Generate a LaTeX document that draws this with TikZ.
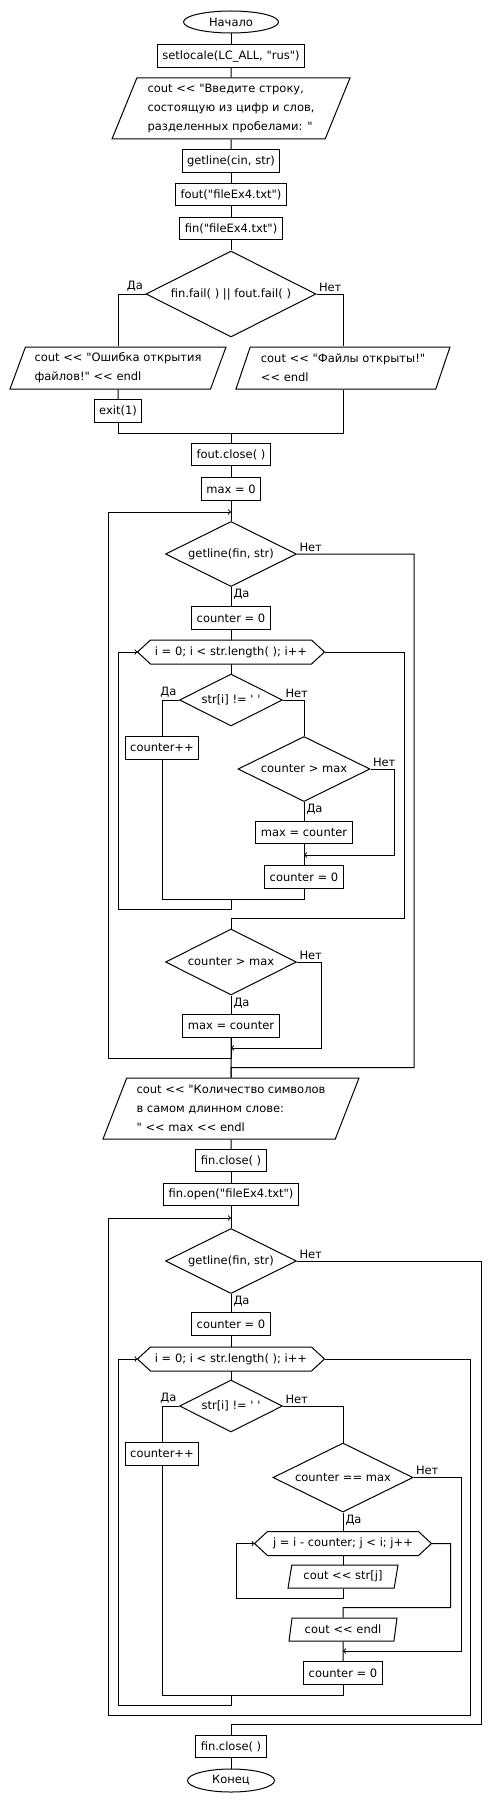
\documentclass[tikz,border=0pt]{standalone}
\usepackage{fontspec}
\setmainfont{DejaVu Sans}[Ligatures=TeXOff]
\usetikzlibrary{arrows}
\usetikzlibrary{shapes.geometric}

\begin{document}
\begin{tikzpicture}[
x=1pt, y=-1pt, line width=1pt,
every node/.style={font=\fontsize{11.5}{19}\selectfont},
term/.style={ellipse, draw, minimum height=22pt, inner sep=0pt},
proc/.style={rectangle, draw, minimum height=22.5pt, inner xsep=5pt, inner ysep=0pt},
io/.style={trapezium, draw, trapezium left angle=63, trapezium right angle=117,
trapezium stretches body=true, align=left, inner sep=0pt},
cond/.style={diamond, draw, aspect=2, inner sep=0pt},
loopbox/.style={rectangle, minimum height=23pt, inner sep=0pt},
lbl/.style={inner sep=2pt},
node distance=34pt
]
\useasboundingbox (0,0) rectangle (490,1803);

\node[term, minimum width=95pt] (start) at (231,22) {Начало};
\node[proc, below of=start] (set) {setlocale(LC\_ALL, "rus")};
\node[io, below of=set, node distance=52.5pt, minimum width=238pt, minimum height=61pt] (in1) {cout << "Введите строку,\\состоящую из цифр и слов,\\разделенных пробелами: "};
\node[proc, below of=in1, node distance=52.5pt] (getl) {getline(cin, str)};
\node[proc, below of=getl, node distance=33.5pt] (fout) {fout("fileEx4.txt")};
\node[proc, below of=fout] (fin) {fin("fileEx4.txt")};
\node[cond, below of=fin, node distance=65.5pt, minimum width=170pt, minimum height=86pt] (dec1) {fin.fail( ) || fout.fail( )};
\node[io, below of=dec1, node distance=74pt, xshift=-113pt, minimum width=216pt, minimum height=42pt] (err) {cout << "Ошибка открытия\\файлов!" << endl};
\node[io, below of=dec1, node distance=74pt, xshift=112pt, minimum width=214pt, minimum height=42pt] (ok) {cout << "Файлы открыты!"\\<< endl};
\node[proc, below of=err, node distance=43pt] (ex) {exit(1)};
\node[proc, below of=dec1, node distance=160.5pt] (fcl) {fout.close( )};
\node[proc, below of=fcl, node distance=34.5pt] (max0) {max = 0};

% first loop
\node[cond, below of=max0, node distance=65pt, minimum width=131pt, minimum height=65pt] (gl1) {getline(fin, str)};
\node[proc, below of=gl1, node distance=64pt] (c01) {counter = 0};
\node[loopbox, below of=c01, minimum width=160pt] (for1) {i = 0; i < str.length( ); i++};
\node[cond, below of=for1, node distance=48pt, minimum width=103pt, minimum height=52pt] (ne1) {str[i] != ' '};
\node[proc, below of=ne1, node distance=48pt, xshift=-69pt] (inc1) {counter++};
\node[cond, below of=ne1, node distance=69pt, xshift=73pt, minimum width=132pt, minimum height=65pt] (gt1) {counter > max};
\node[proc, below of=gt1, node distance=63.5pt] (mx1) {max = counter};
\node[proc, below of=mx1, node distance=44.5pt] (c02) {counter = 0};
\node[cond, below of=for1, node distance=310pt, minimum width=131pt, minimum height=66pt] (gt2) {counter > max};
\node[proc, below of=gt2, node distance=64pt] (mx2) {max = counter};
\node[io, below of=mx2, node distance=82.5pt, minimum width=256pt, minimum height=61pt] (out) {cout << "Количество символов\\в самом длинном слове:\\" << max << endl};

% second loop
\node[proc, below of=out, node distance=52pt] (fcl2) {fin.close( )};
\node[proc, below of=fcl2] (fop) {fin.open("fileEx4.txt")};
\node[cond, below of=fop, node distance=66.5pt, minimum width=131pt, minimum height=65pt] (gl2) {getline(fin, str)};
\node[proc, below of=gl2, node distance=63pt] (c03) {counter = 0};
\node[loopbox, below of=c03, node distance=35pt, minimum width=160pt] (for2) {i = 0; i < str.length( ); i++};
\node[cond, below of=for2, node distance=47pt, minimum width=103pt, minimum height=52pt] (ne2) {str[i] != ' '};
\node[proc, below of=ne2, node distance=48pt, xshift=-69pt] (inc2) {counter++};
\node[cond, below of=ne2, node distance=71.5pt, xshift=112pt, minimum width=140pt, minimum height=69pt] (eq) {counter == max};
\node[loopbox, below of=eq, node distance=66pt, minimum width=150pt] (forj) {j = i - counter; j < i; j++};
\node[io, trapezium left angle=71, trapezium right angle=109, below of=forj, node distance=33pt, minimum width=110pt, minimum height=23pt] (pr) {cout << str[j]};
\node[io, trapezium left angle=71, trapezium right angle=109, below of=pr, node distance=53pt, minimum width=108pt, minimum height=23pt] (endl) {cout << endl};
\node[proc, below of=endl, node distance=43.5pt] (c04) {counter = 0};
\node[proc, below of=for2, node distance=387.5pt] (fcl3) {fin.close( )};
\node[term, below of=fcl3, minimum width=87pt, minimum height=23pt] (stop) {Конец};

% loop headers
\draw (for1.north west) -- (for1.north east) -- ([xshift=13pt]for1.east) -- (for1.south east) -- (for1.south west) -- ([xshift=-13pt]for1.west) -- cycle;
\draw (for2.north west) -- (for2.north east) -- ([xshift=13pt]for2.east) -- (for2.south east) -- (for2.south west) -- ([xshift=-13pt]for2.west) -- cycle;
\draw (forj.north west) -- (forj.north east) -- ([xshift=13pt]forj.east) -- (forj.south east) -- (forj.south west) -- ([xshift=-13pt]forj.west) -- cycle;

% labels
\node[lbl, anchor=south east] (y1) at (dec1.west) {Да};
\node[lbl, anchor=south west] (n1) at (dec1.east) {Нет};
\node[lbl, anchor=south west] (n2) at (gl1.east) {Нет};
\node[lbl, anchor=north west] (y2) at (gl1.south) {Да};
\node[lbl, anchor=south east] (y3) at (ne1.west) {Да};
\node[lbl, anchor=south west] (n3) at (ne1.east) {Нет};
\node[lbl, anchor=south west] (n4) at (gt1.east) {Нет};
\node[lbl, anchor=north west] (y4) at (gt1.south) {Да};
\node[lbl, anchor=south west] (n5) at (gt2.east) {Нет};
\node[lbl, anchor=north west] (y5) at (gt2.south) {Да};
\node[lbl, anchor=south west] (n6) at (gl2.east) {Нет};
\node[lbl, anchor=north west] (y6) at (gl2.south) {Да};
\node[lbl, anchor=south east] (y7) at (ne2.west) {Да};
\node[lbl, anchor=south west] (n7) at (ne2.east) {Нет};
\node[lbl, anchor=south west] (n8) at (eq.east) {Нет};
\node[lbl, anchor=north west] (y8) at (eq.south) {Да};

% junctions
\coordinate (m1) at (231,433);
\coordinate (r1) at (231,512);
\coordinate (a1) at (304,855);
\coordinate (m2) at (231,899);
\coordinate (a2) at (231,1048);
\coordinate (r2) at (231,1218);
\coordinate (a3) at (343,1651);
\coordinate (m3) at (231,1695);

\draw (start) -- (set);
\draw (set) -- (in1);
\draw (in1) -- (getl);
\draw (getl) -- (fout);
\draw (fout) -- (fin);
\draw (fin) -- (dec1);
\draw (dec1.west) -| (err.north);
\draw (dec1.east) -| (ok.north);
\draw (err) -- (ex);
\draw (ex.south) |- (m1);
\draw (ok.south) |- (m1);
\draw (m1) -- (fcl);
\draw (fcl) -- (max0);
\draw (max0) -- (gl1);

\draw (gl1) -- (c01);
\draw (gl1.east) -- ++(117,0) |- ([yshift=10pt]out.north) -- (out);
\draw (c01) -- (for1);
\draw (for1) -- (ne1);
\draw (ne1.west) -| (inc1);
\draw (ne1.east) -| (gt1);
\draw (gt1) -- (mx1);
\draw (mx1) -- (c02);
\draw[->] (gt1.east) -- ++(24,0) |- (a1);
\draw (c02.south) |- (m2);
\draw (inc1.south) |- (m2);
\draw[->] (m2) -- ++(0,10) -- ++(-113,0) |- ([xshift=-13pt]for1.west);
\draw ([xshift=13pt]for1.east) -- ++(80,0) |- ([yshift=10pt]gt2.north) -- (gt2);
\draw (gt2) -- (mx2);
\draw[->] (gt2.east) -- ++(24,0) |- (a2);
\draw (mx2) -- (out);
\draw[->] (mx2.south) -- ++(0,21) -- ++(-123,0) |- (r1);

\draw (out) -- (fcl2);
\draw (fcl2) -- (fop);
\draw (fop) -- (gl2);
\draw (gl2) -- (c03);
\draw (gl2.east) -- ++(184.5,0) |- ([yshift=10pt]fcl3.north) -- (fcl3);
\draw (c03) -- (for2);
\draw (for2) -- (ne2);
\draw (ne2.west) -| (inc2);
\draw (ne2.east) -| (eq);
\draw (eq) -- (forj);
\draw[->] (eq.east) -- ++(48,0) |- (a3);
\draw (forj) -- (pr);
\draw[->] (pr.south) -- ++(0,10) -- ++(-107,0) |- ([xshift=-13pt]forj.west);
\draw ([xshift=13pt]forj.east) -- ++(19,0) |- ([yshift=10pt]endl.north) -- (endl);
\draw (endl) -- (c04);
\draw (c04.south) |- (m3);
\draw (inc2.south) |- (m3);
\draw[->] (m3) -- ++(0,10) -- ++(-113,0) |- ([xshift=-13pt]for2.west);
\draw[->] ([xshift=13pt]for2.east) -- ++(146,0) |- ++(-362,356) |- (r2);
\draw (fcl3) -- (stop);
\end{tikzpicture}
\end{document}
